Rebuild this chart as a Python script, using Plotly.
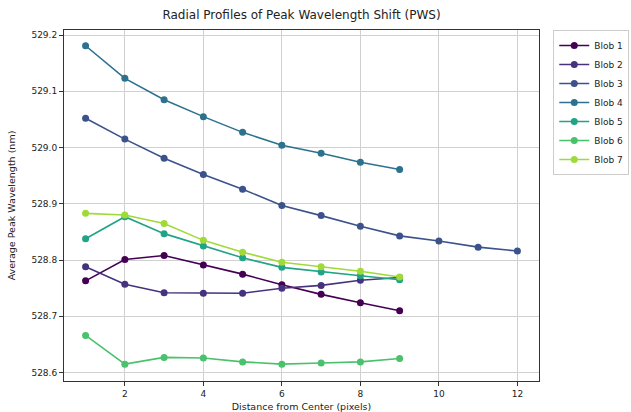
import plotly.graph_objects as go

names = ["Blob 1", "Blob 2", "Blob 3", "Blob 4", "Blob 5", "Blob 6", "Blob 7"]
colors = ["#440154", "#46327e", "#3b528b", "#2c728e", "#21a386", "#4ac16d", "#a0da39"]

x9 = [1, 2, 3, 4, 5, 6, 7, 8, 9]
x12 = [1, 2, 3, 4, 5, 6, 7, 8, 9, 10, 11, 12]

blob1 = [528.763, 528.801, 528.808, 528.791, 528.775, 528.756, 528.739, 528.724, 528.710]
blob2 = [528.788, 528.757, 528.742, 528.741, 528.741, 528.750, 528.755, 528.764, 528.769]
blob3 = [529.052, 529.015, 528.981, 528.952, 528.926, 528.897, 528.879, 528.860, 528.843, 528.834, 528.823, 528.816]
blob4 = [529.181, 529.123, 529.085, 529.055, 529.027, 529.004, 528.990, 528.974, 528.961]
blob5 = [528.838, 528.877, 528.847, 528.825, 528.804, 528.787, 528.779, 528.772, 528.765]
blob6 = [528.666, 528.615, 528.627, 528.626, 528.619, 528.615, 528.617, 528.619, 528.625]
blob7 = [528.883, 528.880, 528.865, 528.835, 528.814, 528.796, 528.788, 528.780, 528.770]

series = [(x9, blob1), (x9, blob2), (x12, blob3), (x9, blob4), (x9, blob5), (x9, blob6), (x9, blob7)]

fig = go.Figure()
for name, color, (xs, ys) in zip(names, colors, series):
    fig.add_trace(go.Scatter(
        x=xs, y=ys, mode="lines+markers", name=name,
        line=dict(color=color, width=1.6),
        marker=dict(color=color, size=7),
    ))

axis_common = dict(
    showline=True, linecolor="#333333", linewidth=1, mirror=True,
    ticks="outside", ticklen=4, tickcolor="#333333",
    showgrid=True, gridcolor="#d0d0d0", gridwidth=1,
    zeroline=False, automargin=False,
    tickfont=dict(family="DejaVu Sans", size=9, color="#222222"),
)

fig.update_layout(
    width=631, height=412,
    margin=dict(l=64, r=92, t=30, b=31, autoexpand=False),
    paper_bgcolor="white", plot_bgcolor="white",
    title=dict(text="Radial Profiles of Peak Wavelength Shift (PWS)",
               x=(64 + 539) / 2 / 631, xanchor="center", y=0.965, yanchor="middle",
               font=dict(family="DejaVu Sans", size=12, color="#222222")),
    xaxis=dict(axis_common, range=[0.45, 12.55], tickvals=[2, 4, 6, 8, 10, 12],
               title=dict(text="Distance from Center (pixels)", standoff=8,
                          font=dict(family="DejaVu Sans", size=9.5, color="#222222"))),
    yaxis=dict(axis_common, range=[528.585, 529.209],
               tickvals=[528.6, 528.7, 528.8, 528.9, 529.0, 529.1, 529.2],
               ticktext=["528.6", "528.7", "528.8", "528.9", "529.0", "529.1", "529.2"],
               title=dict(text="Average Peak Wavelength (nm)", standoff=14,
                          font=dict(family="DejaVu Sans", size=9.5, color="#222222"))),
    legend=dict(x=1.03, y=1.0, xanchor="left", yanchor="top",
                bordercolor="#cccccc", borderwidth=1,
                font=dict(family="DejaVu Sans", size=9, color="#222222"),
                tracegroupgap=0, itemwidth=30),
    showlegend=True,
)

fig.write_html("out.html")
